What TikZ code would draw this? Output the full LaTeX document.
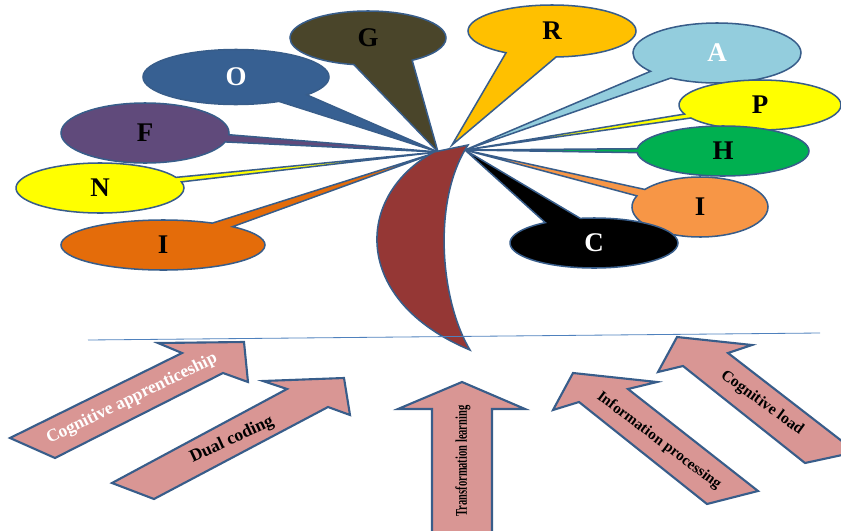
\documentclass[tikz,border=0pt]{standalone}
\usepackage{fontspec}
\setmainfont{Liberation Serif}
\usetikzlibrary{shapes.callouts}
\definecolor{edgeblue}{HTML}{385D8A}
\definecolor{lineblue}{HTML}{4F81BD}
\definecolor{olive}{HTML}{4A452A}
\definecolor{steel}{HTML}{376092}
\definecolor{plum}{HTML}{604A7B}
\definecolor{lemon}{HTML}{FFFF00}
\definecolor{rust}{HTML}{E46C0A}
\definecolor{gold}{HTML}{FFC000}
\definecolor{sky}{HTML}{93CDDD}
\definecolor{leaf}{HTML}{00B050}
\definecolor{peach}{HTML}{F79646}
\definecolor{moon}{HTML}{953735}
\definecolor{arrowpink}{HTML}{D99694}
\tikzset{
	bubble/.style={ellipse callout, draw=edgeblue, line width=1.3pt, inner sep=0pt,
		font=\fontsize{23}{25}\selectfont\bfseries},
	bigarrow/.style={draw=edgeblue, fill=arrowpink, line width=1.8pt, line join=miter},
	arrowtext/.style={inner sep=0pt, font=\fontsize{#1}{#1}\selectfont\bfseries}
}
\begin{document}
\begin{tikzpicture}[x=0.03cm, y=-0.03cm]
			\useasboundingbox (0,0) rectangle (841,530);
			\clip (0,0) rectangle (841,530);
			\coordinate (hubL) at (438,152);
			\coordinate (hubT) at (452,145);
			\coordinate (hubR) at (465,150);
			\node[bubble, fill=rust, minimum width=6.12cm, minimum height=1.5cm, callout pointer arc=14, callout absolute pointer={(hubL)}] (i1) at (163,245) {I};
			\node[bubble, fill=lemon, minimum width=5.04cm, minimum height=1.5cm, callout pointer arc=11, callout absolute pointer={(hubL)}] (n) at (100,188) {N};
			\node[bubble, fill=plum, minimum width=5.04cm, minimum height=1.8cm, callout pointer arc=14, callout absolute pointer={(hubL)}] (f) at (145,133) {F};
			\node[bubble, fill=steel, text=white, minimum width=5.58cm, minimum height=1.65cm, callout pointer arc=22, callout absolute pointer={(hubL)}] (o) at (236,77) {O};
			\node[bubble, fill=olive, minimum width=4.68cm, minimum height=1.62cm, callout pointer arc=45, callout absolute pointer={(hubL)}] (g) at (368,38) {G};
			\node[bubble, fill=gold, minimum width=5.04cm, minimum height=1.56cm, callout pointer arc=36, callout absolute pointer={(hubT)}] (r) at (552,31) {R};
			\node[bubble, fill=sky, text=white, minimum width=5.04cm, minimum height=1.8cm, callout pointer arc=19, callout absolute pointer={(hubR)}] (a) at (717,53) {A};
			\node[bubble, fill=lemon, minimum width=4.86cm, minimum height=1.5cm, callout pointer arc=10, callout absolute pointer={(hubR)}] (p) at (760,105) {P};
			\node[bubble, fill=leaf, minimum width=5.16cm, minimum height=1.5cm, callout pointer arc=9, callout absolute pointer={(hubR)}] (h) at (723,151) {H};
			\node[bubble, fill=peach, minimum width=4.08cm, minimum height=1.8cm, callout pointer arc=14, callout absolute pointer={(hubR)}] (i2) at (700,207) {I};
			\node[bubble, fill=black, text=white, minimum width=5.04cm, minimum height=1.5cm, callout pointer arc=26, callout absolute pointer={(hubR)}] (c) at (594,243) {C};
			\draw[fill=moon, draw=edgeblue, line width=1.3pt] (434,152) .. controls (355,195) and (350,300) .. (470,350)
				.. controls (440,300) and (432,200) .. (468,145) -- cycle;
			\draw[lineblue, line width=0.7pt] (88,340) -- (820,333);
			\draw[bigarrow] (10,438) -- (182,353) -- (158,343) -- (244,342) -- (248,382) -- (223,373) -- (55,458) -- cycle;
			\draw[bigarrow] (112,483) -- (287,389) -- (263,381) -- (344,378) -- (350,415) -- (328,407) -- (154,499) -- cycle;
			\draw[bigarrow] (432,540) -- (432,409) -- (398,409) -- (462,382) -- (525,409) -- (492,409) -- (492,540) -- cycle;
			\draw[bigarrow] (707,504) -- (579,402) -- (553,410) -- (573,373) -- (657,382) -- (628,389) -- (758,491) -- cycle;
			\draw[bigarrow] (805,463) -- (683,366) -- (658,372) -- (677,337) -- (752,345) -- (728,353) -- (856,452) -- cycle;
			\node[arrowtext=15, text=white, rotate=26] (cogapp) at (132,399) {Cognitive apprenticeship};
			\node[arrowtext=15, rotate=25] (dual) at (232,440) {Dual coding};
			\node[arrowtext=14, rotate=90, xscale=0.64] (transf) at (463,461) {Transformation learning};
			\node[arrowtext=13, rotate=-37] (info) at (659,441) {Information processing};
			\node[arrowtext=13.5, rotate=-36] (cogload) at (762,403) {Cognitive load};
		\end{tikzpicture}
\end{document}
